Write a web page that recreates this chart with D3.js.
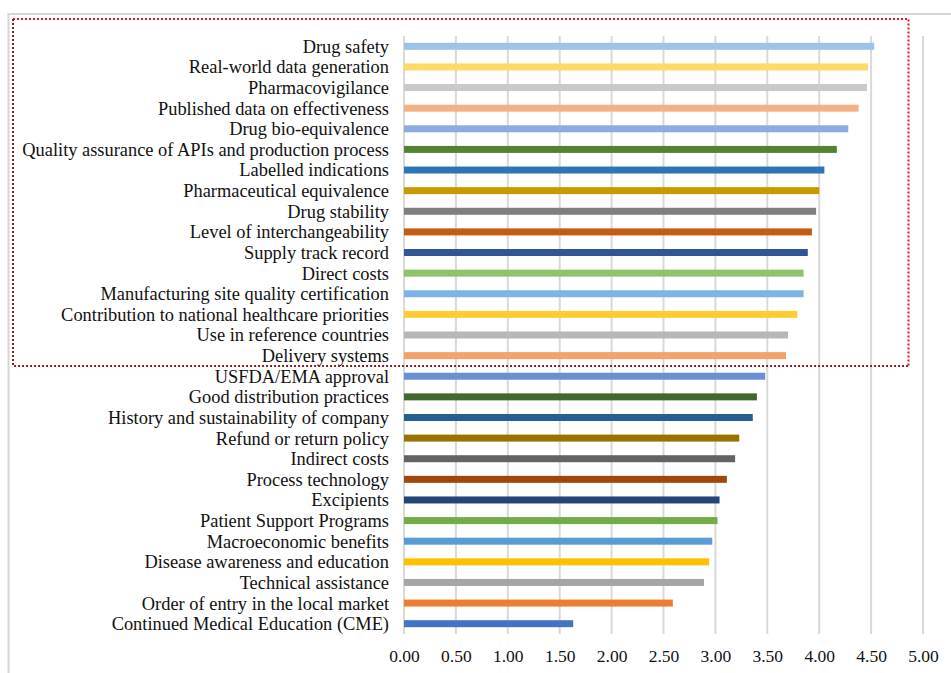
<!DOCTYPE html>
<html>
<head>
<meta charset="utf-8">
<script src="https://cdn.jsdelivr.net/npm/d3@7"></script>
<style>
  html, body { margin: 0; padding: 0; background: #fff; }
  svg { display: block; }
  .lbl { font-family: "Liberation Serif", "Times New Roman", serif; fill: #111; }
</style>
</head>
<body>
<svg id="chart" width="951" height="673"></svg>
<script>
// Factors, ordered from highest to lowest mean score
const factors = [
  "Drug safety",
  "Real-world data generation",
  "Pharmacovigilance",
  "Published data on effectiveness",
  "Drug bio-equivalence ",
  "Quality assurance of APIs and production process",
  "Labelled indications",
  "Pharmaceutical equivalence",
  "Drug stability",
  "Level of interchangeability",
  "Supply track record",
  "Direct costs",
  "Manufacturing site quality certification",
  "Contribution to national healthcare priorities",
  "Use in reference countries",
  "Delivery systems",
  "USFDA/EMA approval",
  "Good distribution practices",
  "History and sustainability of company",
  "Refund or return policy",
  "Indirect costs",
  "Process technology",
  "Excipients",
  "Patient Support Programs",
  "Macroeconomic benefits",
  "Disease awareness and education",
  "Technical assistance",
  "Order of entry in the local market",
  "Continued Medical Education (CME)"
];

const scores = [
  4.53, 4.47, 4.46, 4.38, 4.28, 4.17, 4.05, 4.00, 3.97, 3.93,
  3.89, 3.85, 3.85, 3.79, 3.70, 3.68, 3.48, 3.40, 3.36, 3.23,
  3.19, 3.11, 3.04, 3.02, 2.97, 2.94, 2.89, 2.59, 1.63
];

const barColors = [
  "#9DC3E6", "#FFD966", "#C9C9C9", "#F4B183", "#8FAADC", "#548235",
  "#2E75B6", "#C99A00", "#7F7F7F", "#C55A11", "#2F5597", "#8FC36B",
  "#7FB2E5", "#FFCC33", "#B7B7B7", "#F4A16B", "#6A8FD3", "#43682B",
  "#255E91", "#997300", "#636363", "#9E480E", "#264478", "#70AD47",
  "#5B9BD5", "#FFC000", "#A5A5A5", "#ED7D31", "#4472C4"
];

const tickValues = [0, 0.5, 1, 1.5, 2, 2.5, 3, 3.5, 4, 4.5, 5];

// Number of top factors enclosed by the highlight box
const highlightCount = 16;

const svg = d3.select("#chart");

const plot = { left: 404, right: 923, top: 36, bottom: 634 };

const x = d3.scaleLinear().domain([0, 5]).range([plot.left, plot.right]);
const y = d3.scaleBand().domain(factors).range([plot.top, plot.bottom]).padding(0);

// Outer frame (top and left edges)
svg.append("path")
  .attr("d", `M951,14 H8.5 V673`)
  .attr("fill", "none")
  .attr("stroke", "#d6d6d6")
  .attr("stroke-width", 2);

// Vertical gridlines
svg.append("g")
  .selectAll("line")
  .data(tickValues)
  .join("line")
  .attr("x1", d => x(d)).attr("x2", d => x(d))
  .attr("y1", plot.top).attr("y2", plot.bottom)
  .attr("stroke", "#d9d9d9")
  .attr("stroke-width", 2);

// Bars
const barH = 7;
svg.append("g")
  .selectAll("rect")
  .data(factors)
  .join("rect")
  .attr("x", x(0))
  .attr("y", d => y(d) + y.bandwidth() / 2 - barH / 2)
  .attr("width", (d, i) => x(scores[i]) - x(0))
  .attr("height", barH)
  .attr("fill", (d, i) => barColors[i]);

// Category labels
svg.append("g")
  .selectAll("text")
  .data(factors)
  .join("text")
  .attr("class", "lbl")
  .attr("x", 389)
  .attr("y", d => y(d) + y.bandwidth() / 2)
  .attr("dy", "0.35em")
  .attr("text-anchor", "end")
  .attr("font-size", 18.4)
  .text(d => d);

// Value axis labels
const xAxis = d3.axisBottom(x)
  .tickValues(tickValues)
  .tickFormat(d3.format(".2f"))
  .tickSize(0)
  .tickPadding(0);

const axisG = svg.append("g")
  .attr("transform", `translate(0, 653)`)
  .call(xAxis);
axisG.select(".domain").remove();
axisG.selectAll("text")
  .attr("class", "lbl")
  .attr("font-size", 17.5)
  .attr("dy", "0.5em")
  .style("font-family", "'Liberation Serif', 'Times New Roman', serif")
  .attr("fill", "#111");

// Highlight box around the top-ranked factors
const boxTop = 19;
const boxLeft = 13;
const boxRight = 908.5;
const boxBottom = y(factors[highlightCount - 1]) + y.bandwidth();

svg.append("path")
  .attr("d", `M${boxLeft},${boxTop} H${boxRight} V${boxBottom}`)
  .attr("fill", "none")
  .attr("stroke", "#e3141b")
  .attr("stroke-width", 2)
  .attr("stroke-dasharray", "2,2");

svg.append("path")
  .attr("d", `M${boxLeft},${boxTop} V${boxBottom} H${boxRight}`)
  .attr("fill", "none")
  .attr("stroke", "#8f1a22")
  .attr("stroke-width", 2)
  .attr("stroke-dasharray", "2,2");
</script>
</body>
</html>
